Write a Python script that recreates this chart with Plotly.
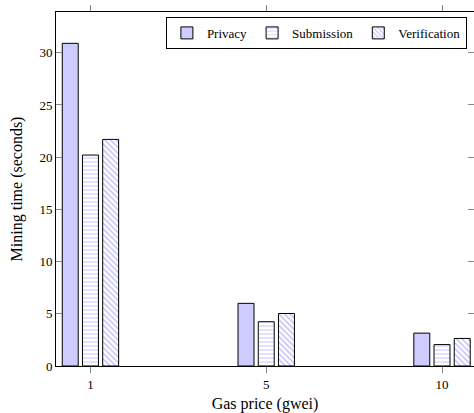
import plotly.graph_objects as go

gas_price = ["1", "5", "10"]
privacy = [30.9, 6.0, 3.15]
submission = [20.2, 4.24, 2.05]
verification = [21.7, 5.03, 2.64]

FONT = "Liberation Serif"
fill = "#ccccff"

fig = go.Figure()
fig.add_trace(go.Bar(name="Privacy", x=gas_price, y=privacy,
                     marker=dict(color=fill, line=dict(color="black", width=1))))
fig.add_trace(go.Bar(name="Submission", x=gas_price, y=submission,
                     marker=dict(color="white", line=dict(color="black", width=1),
                                 pattern=dict(shape="-", fgcolor="#c8c8ff", bgcolor="white",
                                              size=4, solidity=0.5))))
fig.add_trace(go.Bar(name="Verification", x=gas_price, y=verification,
                     marker=dict(color="white", line=dict(color="black", width=1),
                                 pattern=dict(shape="\\", fgcolor="#6a6aff", bgcolor="white",
                                              size=4, solidity=0.3))))

fig.update_layout(
    width=474, height=413,
    margin=dict(l=55.5, r=0, t=11.7, b=46.7),
    paper_bgcolor="white", plot_bgcolor="white",
    barmode="group", bargap=0.655, bargroupgap=0.21,
    font=dict(family=FONT, size=13, color="black"),
    showlegend=True,
    legend=dict(orientation="h", x=0.983, xanchor="right", y=0.986, yanchor="top",
                bordercolor="black", borderwidth=1, bgcolor="white",
                font=dict(size=13), itemwidth=30, tracegroupgap=0),
    xaxis=dict(type="category", range=[-0.196, 2.182],
               showline=True, linecolor="black", linewidth=1, mirror="ticks",
               ticks="outside", ticklen=6, tickcolor="#888", tickwidth=1,
               showgrid=False, zeroline=False,
               title=dict(text="Gas price (gwei)", standoff=10),
               tickfont=dict(size=13)),
    yaxis=dict(range=[0, 33.9], tickvals=[0, 5, 10, 15, 20, 25, 30],
               showline=True, linecolor="black", linewidth=1, mirror="ticks",
               ticks="inside", ticklen=6, tickcolor="#888", tickwidth=1,
               showgrid=False, zeroline=False,
               title=dict(text="Mining time (seconds)", standoff=12),
               tickfont=dict(size=13)),
)

fig.write_html("out.html")
